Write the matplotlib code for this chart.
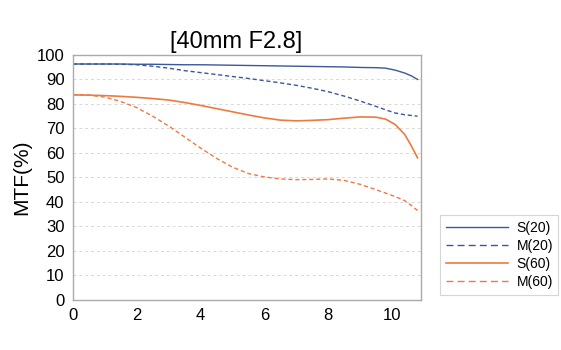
import numpy as np
import matplotlib.pyplot as plt

plt.rcParams['font.family'] = 'Liberation Sans'

# image height (mm) positions
x = [0, 0.5, 1, 1.5, 2, 2.5, 3, 3.5, 4, 4.5, 5, 5.5, 6, 6.5, 7, 7.5, 8, 8.5, 9, 9.5, 9.8, 10.1, 10.4, 10.6, 10.8]

s20 = [96.3, 96.3, 96.3, 96.3, 96.2, 96.2, 96.1, 96.0, 96.0, 95.9, 95.8, 95.7, 95.6, 95.5, 95.4, 95.3, 95.2, 95.1, 94.9, 94.8, 94.6, 93.8, 92.6, 91.5, 90.0]
m20 = [96.3, 96.3, 96.3, 96.2, 96.0, 95.4, 94.6, 93.6, 92.8, 92.0, 91.2, 90.4, 89.5, 88.6, 87.6, 86.4, 85.0, 83.2, 81.2, 79.0, 77.6, 76.3, 75.6, 75.3, 75.0]
s60 = [83.7, 83.6, 83.4, 83.1, 82.7, 82.2, 81.6, 80.6, 79.4, 78.1, 76.8, 75.5, 74.3, 73.4, 73.1, 73.3, 73.6, 74.2, 74.7, 74.6, 73.8, 71.6, 67.5, 63.0, 58.0]
m60 = [83.8, 83.6, 82.8, 81.0, 78.5, 75.0, 71.0, 66.5, 62.0, 57.8, 54.2, 51.6, 50.2, 49.4, 49.1, 49.2, 49.4, 48.8, 47.2, 45.0, 43.6, 42.2, 40.5, 38.6, 36.5]

blue = '#3a5799'
orange = '#ee7a3f'

fig = plt.figure(figsize=(5.61, 3.5), dpi=100)
ax = fig.add_axes([0.130, 0.143, 0.620, 0.700])

ax.plot(x, s20, color=blue, lw=1.0, label='S(20)')
ax.plot(x, m20, color=blue, lw=1.0, ls=(0, (3, 2)), label='M(20)')
ax.plot(x, s60, color=orange, lw=1.2, label='S(60)')
ax.plot(x, m60, color=orange, lw=1.0, ls=(0, (3, 2)), label='M(60)')

ax.set_xlim(0, 10.9)
ax.set_ylim(0, 100)
ax.set_xticks([0, 2, 4, 6, 8, 10])
ax.set_yticks(range(0, 101, 10))
ax.tick_params(length=0, labelsize=12, pad=6)
ax.grid(axis='y', color='#d8d8d8', ls=(0, (3, 3)), lw=0.7)
for sp in ax.spines.values():
    sp.set_color('#aaaaaa')
    sp.set_linewidth(1.0)

ax.set_ylabel('MTF(%)', fontsize=15, labelpad=4)
ax.set_title('[40mm F2.8]', fontsize=17, pad=5, x=0.468)

leg = fig.legend(loc='lower left', bbox_to_anchor=(0.772, 0.138), fontsize=10,
                 frameon=True, fancybox=False, handlelength=4.5, handletextpad=0.6,
                 labelspacing=0.3, borderpad=0.4)
leg.get_frame().set_edgecolor('#cccccc')
leg.get_frame().set_linewidth(0.8)
for h in leg.get_lines()[1::2]:
    h.set_linestyle((0, (5, 3)))

fig.savefig('out.png', dpi=100)
